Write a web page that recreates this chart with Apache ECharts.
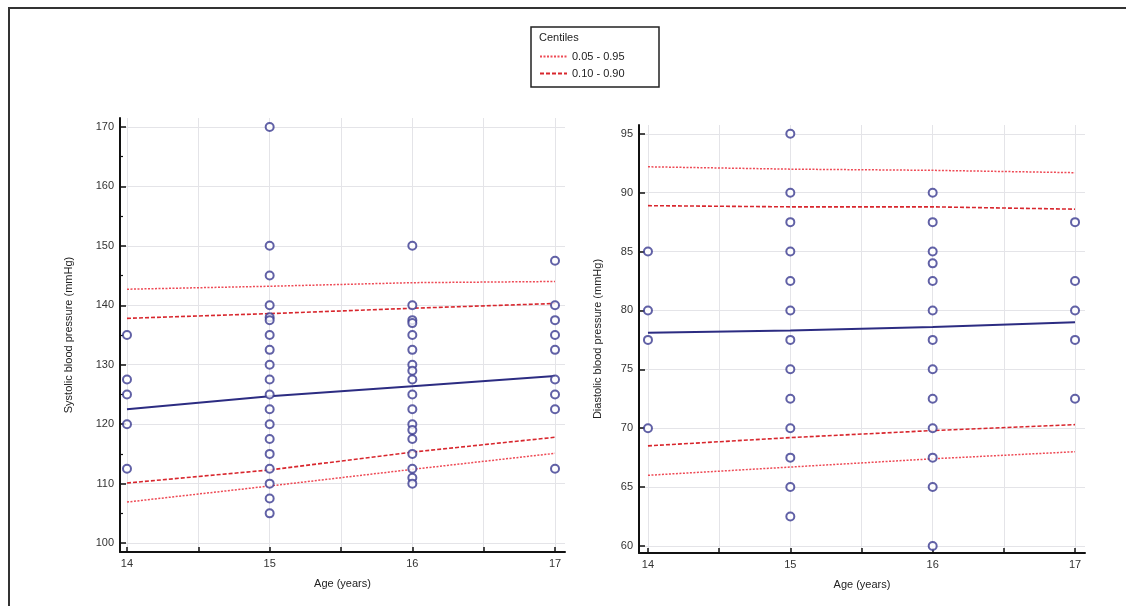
<!DOCTYPE html>
<html>
<head>
<meta charset="utf-8">
<script src="https://cdn.jsdelivr.net/npm/echarts@6/dist/echarts.min.js"></script>
<style>
html,body{margin:0;padding:0;background:#fff;}
#chart{width:1126px;height:606px;}
</style>
</head>
<body>
<div id="chart"></div>
<script>
// ---- data ----
const ages = [14, 15, 16, 17];
const sysObs14 = [135, 127.5, 125, 120, 112.5];
const sysObs15 = [170, 150, 145, 140, 138, 137.5, 135, 132.5, 130, 127.5, 125, 122.5, 120, 117.5, 115, 112.5, 110, 107.5, 105];
const sysObs16 = [150, 140, 137.5, 137, 135, 132.5, 130, 129, 127.5, 125, 122.5, 120, 119, 117.5, 115, 112.5, 111, 110];
const sysObs17 = [147.5, 140, 137.5, 135, 132.5, 127.5, 125, 122.5, 112.5];
const diaObs14 = [85, 80, 77.5, 70];
const diaObs15 = [95, 90, 87.5, 85, 82.5, 80, 77.5, 75, 72.5, 70, 67.5, 65, 62.5];
const diaObs16 = [90, 87.5, 85, 84, 82.5, 80, 77.5, 75, 72.5, 70, 67.5, 65, 60];
const diaObs17 = [87.5, 82.5, 80, 77.5, 72.5];

const sysP05 = [106.9, 109.6, 112.4, 115.1];
const sysP10 = [110.1, 112.3, 115.3, 117.8];
const sysMed = [122.5, 124.7, 126.4, 128.1];
const sysP90 = [137.8, 138.6, 139.5, 140.3];
const sysP95 = [142.7, 143.2, 143.8, 144.0];

const diaP05 = [66.0, 66.7, 67.4, 68.0];
const diaP10 = [68.5, 69.2, 69.8, 70.3];
const diaMed = [78.1, 78.3, 78.6, 79.0];
const diaP90 = [88.9, 88.8, 88.8, 88.6];
const diaP95 = [92.2, 92.0, 91.9, 91.7];

const xLabels = [14, 15, 16, 17];
const xTicks = [14, 14.5, 15, 15.5, 16, 16.5, 17];
const sysLabels = [100, 110, 120, 130, 140, 150, 160, 170];
const sysMinor = [105, 115, 125, 135, 145, 155, 165];
const diaLabels = [60, 65, 70, 75, 80, 85, 90, 95];

// ---- helpers ----
function pts(groups) {
  const out = [];
  groups.forEach((g, i) => g.forEach(v => out.push([ages[i], v])));
  return out;
}
function curve(vals) { return vals.map((v, i) => [ages[i], v]); }

const FONT = 'Liberation Sans, Arial, sans-serif';
const navy = '#2c2c82';
const dotRed = '#ee4a55';
const dashRed = '#d8262d';

function xAxisCfg(grid, min, gridTicks) {
  return {
    type: 'value', gridIndex: grid, min: min, max: 17.07,
    name: 'Age (years)', nameLocation: 'middle', nameGap: 26,
    nameTextStyle: {fontFamily: FONT, fontSize: 11, color: '#222'},
    axisLine: {show: true, onZero: false, lineStyle: {color: '#111', width: 2}},
    axisTick: {show: true, inside: true, length: 5, customValues: gridTicks, lineStyle: {color: '#111', width: 1.5}},
    axisLabel: {customValues: xLabels, margin: 6, fontFamily: FONT, fontSize: 11, color: '#333'},
    splitLine: {show: true, lineStyle: {color: '#e4e4e8', width: 1}}
  };
}
function yAxisCfg(grid, min, max, labels, name, gap) {
  return {
    type: 'value', gridIndex: grid, min: min, max: max,
    name: name, nameLocation: 'middle', nameGap: gap, nameRotate: 90,
    nameTextStyle: {fontFamily: FONT, fontSize: 11, color: '#222'},
    axisLine: {show: true, onZero: false, lineStyle: {color: '#111', width: 2}},
    axisTick: {show: true, inside: true, length: 6, customValues: labels, lineStyle: {color: '#111', width: 1.5}},
    axisLabel: {customValues: labels, margin: 6, fontFamily: FONT, fontSize: 11, color: '#333'},
    splitLine: {show: true, lineStyle: {color: '#e4e4e8', width: 1}}
  };
}

function lineSeries(name, data, xi, yi, color, type, width, z) {
  return {
    name: name, type: 'line', xAxisIndex: xi, yAxisIndex: yi, data: data,
    symbol: 'none', showSymbol: false, smooth: false, z: z || 3,
    lineStyle: {color: color, type: type, width: width},
    itemStyle: {color: color},
    emphasis: {disabled: true}, silent: true
  };
}
function scatterSeries(data, xi, yi) {
  return {
    name: 'obs', type: 'scatter', xAxisIndex: xi, yAxisIndex: yi, data: data,
    symbol: 'emptyCircle', symbolSize: 8, z: 5,
    itemStyle: {color: '#3a3a90', borderColor: '#3a3a90', borderWidth: 1.6},
    emphasis: {disabled: true}, silent: true
  };
}

const chart = echarts.init(document.getElementById('chart'), null, {renderer: 'canvas'});
const option = {
  backgroundColor: '#fff',
  animation: false,
  textStyle: {fontFamily: FONT},
  graphic: [
    {type: 'rect', shape: {x: 9, y: 8, width: 1200, height: 700}, style: {fill: 'none', stroke: '#333', lineWidth: 2}, silent: true},
    {type: 'rect', shape: {x: 531, y: 27, width: 128, height: 60}, style: {fill: '#fff', stroke: '#222', lineWidth: 1.5}, z: 10, silent: true},
    {type: 'text', left: 539, top: 32, style: {text: 'Centiles', fontFamily: FONT, fontSize: 11, fill: '#222'}, z: 11, silent: true}
  ],
  legend: {
    left: 539, top: 51, padding: 0, orient: 'vertical', itemWidth: 27, itemHeight: 10, itemGap: 6,
    data: ['0.05 - 0.95', '0.10 - 0.90'], selectedMode: false, z: 12,
    itemStyle: {opacity: 0},
    textStyle: {fontFamily: FONT, fontSize: 11, color: '#222'}
  },
  grid: [
    {left: 120, top: 118, width: 445, height: 434},
    {left: 639, top: 125, width: 446, height: 428}
  ],
  xAxis: [
    xAxisCfg(0, 13.951, xTicks),
    xAxisCfg(1, 13.937, xTicks)
  ],
  yAxis: [
    yAxisCfg(0, 98.5, 171.5, sysLabels, 'Systolic blood pressure (mmHg)', 46),
    {
      type: 'value', gridIndex: 0, min: 98.5, max: 171.5, position: 'left',
      axisLine: {show: false},
      axisTick: {show: true, inside: true, length: 3, customValues: sysMinor, lineStyle: {color: '#111', width: 1.2}},
      axisLabel: {show: false}, splitLine: {show: false}
    },
    yAxisCfg(1, 59.4, 95.75, diaLabels, 'Diastolic blood pressure (mmHg)', 36)
  ],
  series: [
    lineSeries('0.05 - 0.95', curve(sysP95), 0, 0, dotRed, [2, 1.5], 1.5),
    lineSeries('0.10 - 0.90', curve(sysP90), 0, 0, dashRed, [4, 2], 1.6),
    lineSeries('median', curve(sysMed), 0, 0, navy, 'solid', 2),
    lineSeries('0.10 - 0.90', curve(sysP10), 0, 0, dashRed, [4, 2], 1.6),
    lineSeries('0.05 - 0.95', curve(sysP05), 0, 0, dotRed, [2, 1.5], 1.5),
    scatterSeries(pts([sysObs14, sysObs15, sysObs16, sysObs17]), 0, 0),
    lineSeries('0.05 - 0.95', curve(diaP95), 1, 2, dotRed, [2, 1.5], 1.5),
    lineSeries('0.10 - 0.90', curve(diaP90), 1, 2, dashRed, [4, 2], 1.6),
    lineSeries('median', curve(diaMed), 1, 2, navy, 'solid', 2),
    lineSeries('0.10 - 0.90', curve(diaP10), 1, 2, dashRed, [4, 2], 1.6),
    lineSeries('0.05 - 0.95', curve(diaP05), 1, 2, dotRed, [2, 1.5], 1.5),
    scatterSeries(pts([diaObs14, diaObs15, diaObs16, diaObs17]), 1, 2)
  ]
};
chart.setOption(option);
</script>
</body>
</html>
